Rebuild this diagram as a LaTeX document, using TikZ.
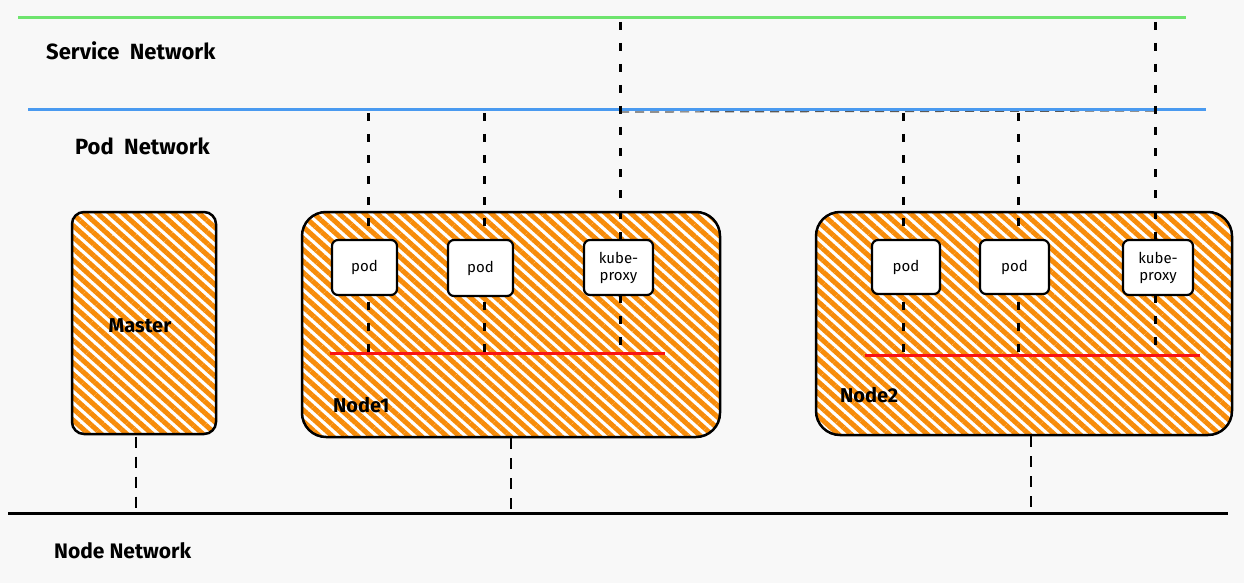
\documentclass[tikz,border=0pt]{standalone}
\usepackage{fontspec}
\setmainfont{Fira Sans}
\usetikzlibrary{patterns.meta}
\definecolor{bgc}{RGB}{248,248,248}
\definecolor{svcgreen}{RGB}{110,228,110}
\definecolor{podblue}{RGB}{74,154,240}
\definecolor{hatch}{RGB}{247,140,10}
\definecolor{bridge}{RGB}{250,20,20}
\tikzset{
  netlabel/.style={font=\bfseries\fontsize{22}{24}\selectfont, anchor=west, inner sep=0pt},
  hostbox/.style={draw=black, line width=2.5pt, rounded corners=#1,
    preaction={fill=white},
    pattern={Lines[angle=-42,distance=8.5pt,line width=5pt]}, pattern color=hatch,
    inner sep=0pt},
  hostlabel/.style={font=\bfseries\fontsize{20}{22}\selectfont, inner sep=0pt},
  podbox/.style={draw=black, line width=2.2pt, fill=white, rounded corners=6pt,
    inner sep=0pt, align=center, font=\fontsize{15}{17}\selectfont},
  upperdash/.style={line width=3pt, dash pattern=on 8pt off 13pt},
  lowerdash/.style={line width=2.4pt, dash pattern=on 11pt off 9pt},
}
\begin{document}
\begin{tikzpicture}[x=1pt,y=-1pt]
\useasboundingbox (0,0) rectangle (1244,583);
\fill[bgc] (0,0) rectangle (1244,583);

% network lines
\coordinate (svcL) at (18,18);   \coordinate (svcR) at (1186,18);
\coordinate (podL) at (28,110);  \coordinate (podR) at (1206,110);
\coordinate (nodL) at (8,513);   \coordinate (nodR) at (1228,513);
\coordinate (hzA) at (620,112);  \coordinate (hzB) at (1155,111);
\draw[gray!70!black, line width=1.2pt, dash pattern=on 9pt off 6pt] (hzA) -- (hzB);
\draw[svcgreen, line width=3pt] (svcL) -- (svcR);
\draw[podblue, line width=3pt] (podL) -- (podR);
\draw[black, line width=3pt] (nodL) -- (nodR);

\node[netlabel] (svclbl) at (46,51) {Service\ \ Network};
\node[netlabel] (podlbl) at (75,146) {Pod\ \ Network};
\node[netlabel, font=\fontsize{21}{23}\selectfont\bfseries] (nodlbl) at (54,551) {Node Network};

% hosts
\node[hostbox=12pt, minimum width=144pt, minimum height=222pt] (master) at (144,323) {};
\node[hostbox=24pt, minimum width=418pt, minimum height=225pt] (node1) at (511,324.5) {};
\node[hostbox=24pt, minimum width=416pt, minimum height=223pt] (node2) at (1024,323.5) {};
\node[hostlabel] (masterlbl) at (140,326) {Master};
\node[hostlabel, anchor=west] (n1lbl) at (333,405) {Node1};
\node[hostlabel, anchor=west] (n2lbl) at (840,395) {Node2};

% bridges
\coordinate (br1L) at (330,353); \coordinate (br1R) at (665,353);
\coordinate (br2L) at (865,355); \coordinate (br2R) at (1200,355);
\draw[bridge, line width=3pt] (br1L) -- (br1R);
\draw[bridge, line width=3pt] (br2L) -- (br2R);

% dashed connectors (pods to pod network, proxies to service network)
\coordinate (a1) at (368,113);  \coordinate (b1) at (368,353);
\coordinate (a2) at (484,113);  \coordinate (b2) at (484,353);
\coordinate (a3) at (620,22);   \coordinate (b3) at (620,353);
\coordinate (a4) at (903,113);  \coordinate (b4) at (903,355);
\coordinate (a5) at (1018,113); \coordinate (b5) at (1018,355);
\coordinate (a6) at (1155,22);  \coordinate (b6) at (1155,355);
\foreach \i in {1,...,6} { \draw[upperdash] (a\i) -- (b\i); }

% pods
\node[podbox, minimum width=65pt, minimum height=55pt] (p11) at (364.5,267.5) {pod};
\node[podbox, minimum width=65pt, minimum height=56pt] (p12) at (480.5,268) {pod};
\node[podbox, minimum width=69pt, minimum height=55pt] (kp1) at (618.5,267.5) {kube-\\proxy};
\node[podbox, minimum width=68pt, minimum height=54pt] (p21) at (906,267) {pod};
\node[podbox, minimum width=69pt, minimum height=54pt] (p22) at (1014.5,267) {pod};
\node[podbox, minimum width=70pt, minimum height=55pt] (kp2) at (1158,267.5) {kube-\\proxy};

% hosts to node network
\coordinate (m0) at (136,513);
\coordinate (n10) at (511,513);
\coordinate (n20) at (1031,513);
\draw[lowerdash] (master.south -| m0) -- (m0);
\draw[lowerdash] (node1.south -| n10) -- (n10);
\draw[lowerdash] (node2.south -| n20) -- (n20);
\end{tikzpicture}
\end{document}
